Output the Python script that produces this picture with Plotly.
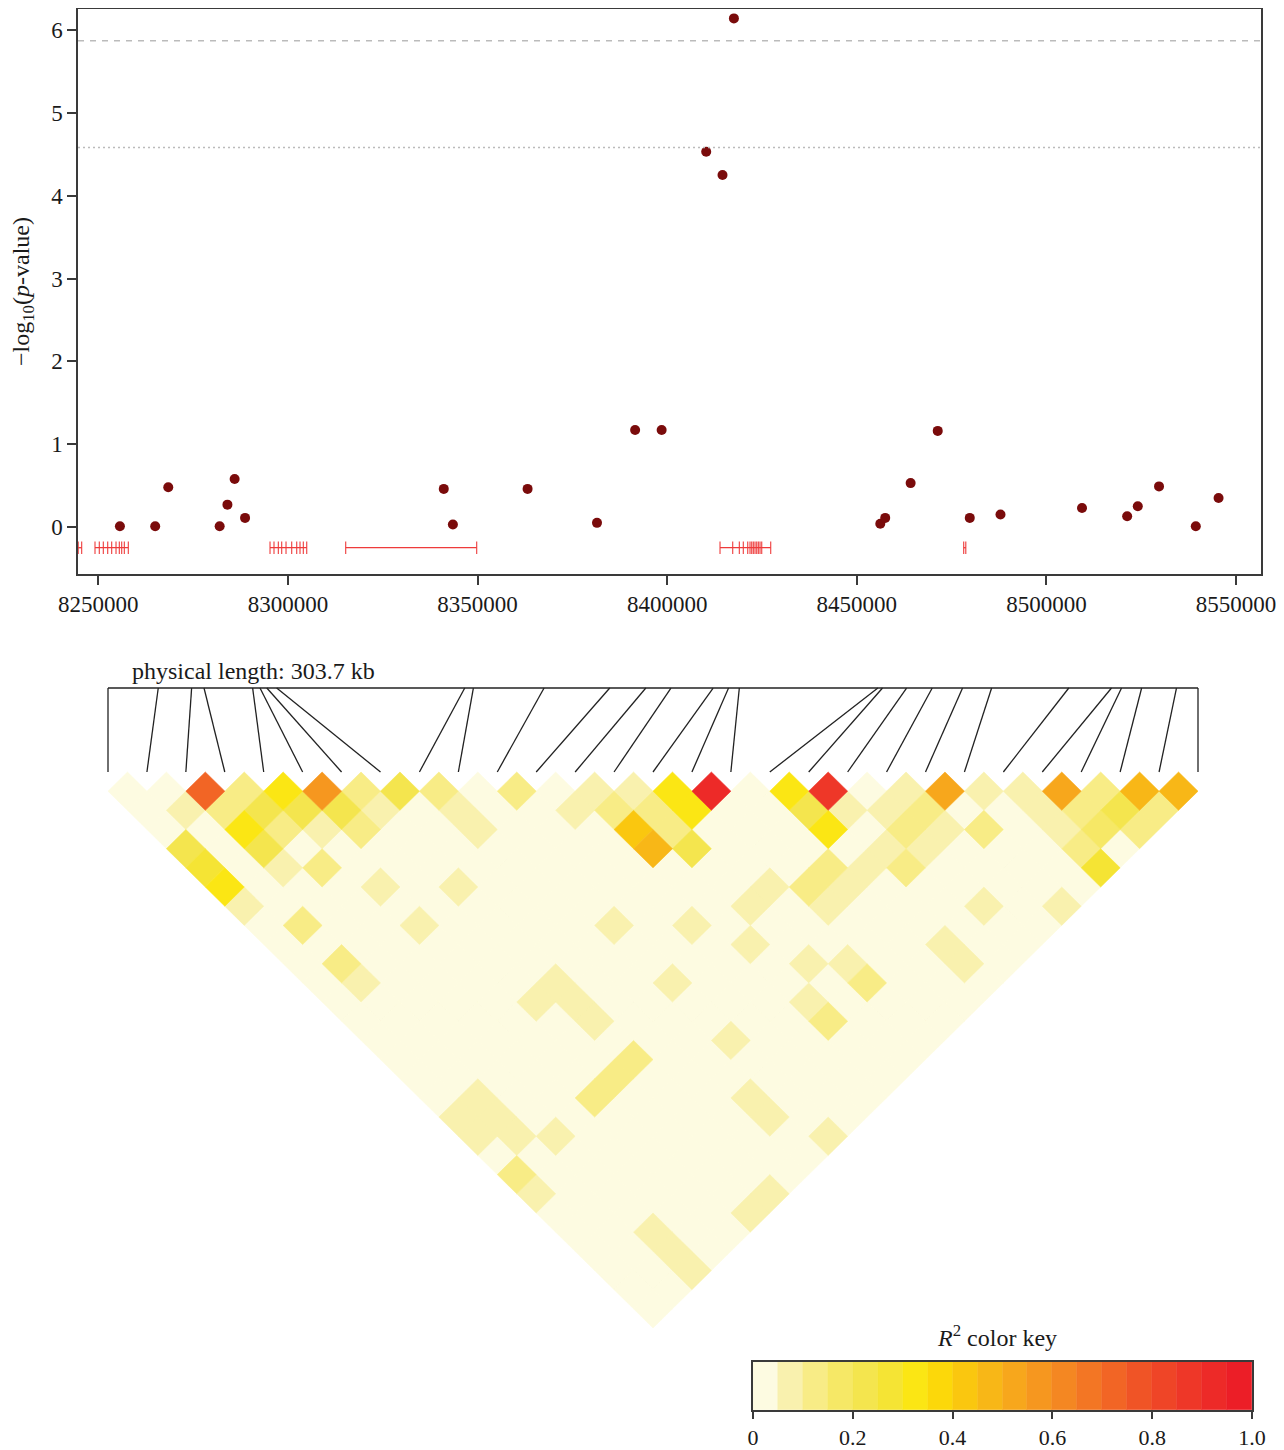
import plotly.graph_objects as go

W, H = 1284, 1450
OFF = 8  # page body margin of the html page
FONT = "Liberation Serif, Times New Roman, serif"

# ---------------- data ----------------
snp_pos = [8241700, 8255700, 8265000, 8268450, 8282000, 8284050, 8285950, 8288700,
           8341100, 8343500, 8363200, 8381500, 8391550, 8398550, 8410300, 8414600,
           8417600, 8456200, 8457500, 8464200, 8471350, 8479800, 8487900, 8509400,
           8521300, 8524100, 8529700, 8539400, 8545400]
neg_log_p = [None, 0.01, 0.01, 0.48, 0.01, 0.27, 0.58, 0.11,
             0.46, 0.03, 0.46, 0.05, 1.17, 1.17, 4.53, 4.25,
             6.14, 0.04, 0.11, 0.53, 1.16, 0.11, 0.15, 0.23,
             0.13, 0.25, 0.49, 0.01, 0.35]

genome_ticks = [8250000, 8300000, 8350000, 8400000, 8450000, 8500000, 8550000]
p_ticks = [0, 1, 2, 3, 4, 5, 6]
threshold_dashed = 5.87
threshold_dotted = 4.58

gene_track_y = -0.25
gene_starts = [8244700, 8249130, 8295280, 8315240, 8413940, 8478200]
gene_ends = [8245620, 8257910, 8304960, 8349780, 8427310, 8478750]
exon_marks = [
    [8244700, 8245620],
    [8249130, 8250260, 8251320, 8252480, 8253530, 8254670, 8255540, 8256170, 8256860, 8257910],
    [8295280, 8296330, 8297470, 8298360, 8299500, 8301000, 8302320, 8303190, 8304060, 8304960],
    [8315240, 8349780],
    [8413940, 8417290, 8419030, 8420080, 8421250, 8421850, 8422300, 8422720, 8423170,
     8423620, 8424040, 8424490, 8424940, 8427310],
    [8478200, 8478750],
]

# pairwise LD (r^2); row i lists SNP i with SNPs i+1 .. 29
ld_r2 = [
    [.03, .02, .02, .22, .27, .32, .07, .02, .02, .02, .02, .02, .02, .02, .02, .02, .02, .07, .07, .02, .13, .07, .02, .02, .02, .02, .02, .02],
    [.03, .07, .02, .02, .02, .02, .02, .14, .02, .14, .07, .02, .02, .02, .02, .02, .07, .07, .07, .02, .02, .02, .02, .02, .02, .02, .02],
    [.71, .11, .32, .22, .07, .02, .02, .02, .02, .02, .02, .02, .02, .02, .02, .02, .02, .02, .07, .02, .02, .02, .02, .07, .07, .07],
    [.12, .22, .11, .04, .14, .02, .02, .02, .02, .02, .02, .02, .02, .02, .02, .02, .02, .02, .02, .02, .02, .02, .02, .02, .02],
    [.33, .22, .06, .02, .02, .07, .02, .07, .02, .02, .02, .02, .02, .02, .02, .02, .14, .02, .02, .02, .02, .02, .02, .02],
    [.58, .22, .14, .02, .02, .02, .02, .02, .02, .02, .02, .07, .02, .02, .02, .14, .02, .02, .02, .02, .02, .02, .07],
    [.12, .07, .02, .02, .02, .07, .02, .02, .02, .02, .07, .07, .07, .02, .14, .02, .02, .02, .02, .02, .02, .07],
    [.22, .02, .02, .02, .02, .02, .02, .02, .02, .02, .02, .02, .02, .02, .02, .02, .02, .02, .02, .02, .02],
    [.12, .07, .07, .02, .02, .02, .02, .02, .02, .02, .02, .02, .02, .02, .02, .02, .07, .07, .02, .02],
    [.04, .02, .02, .02, .02, .02, .02, .07, .02, .02, .08, .02, .02, .07, .02, .02, .02, .02, .07],
    [.11, .02, .02, .02, .02, .02, .02, .02, .02, .02, .02, .02, .02, .02, .02, .02, .02, .02],
    [.04, .07, .02, .02, .02, .02, .02, .07, .02, .02, .02, .02, .02, .02, .02, .02, .02],
    [.06, .14, .42, .46, .02, .02, .02, .02, .07, .02, .02, .07, .13, .02, .02, .02],
    [.06, .11, .11, .22, .02, .02, .07, .02, .02, .07, .02, .02, .02, .02, .02],
    [.32, .31, .02, .02, .02, .07, .02, .02, .02, .07, .13, .02, .02, .02],
    [.91, .02, .02, .02, .02, .14, .07, .02, .02, .02, .02, .02, .02],
    [.02, .02, .02, .02, .14, .07, .02, .02, .02, .02, .02, .02],
    [.31, .22, .31, .02, .07, .02, .02, .02, .07, .07, .02],
    [.86, .07, .02, .08, .11, .02, .02, .02, .02, .02],
    [.03, .06, .11, .07, .02, .02, .08, .02, .02],
    [.07, .13, .07, .02, .02, .02, .02, .02],
    [.52, .03, .11, .02, .02, .02, .07],
    [.07, .03, .02, .02, .02, .02],
    [.07, .07, .07, .11, .28],
    [.52, .11, .18, .03],
    [.12, .20, .11],
    [.47, .11],
    [.47],
]

ld_bin_colors = ["#FDFBE1", "#F9F1AE", "#F8EC86", "#F6E866", "#F4E54E",
                 "#F5E434", "#FBE614", "#FCD80A", "#FAC70F", "#F8B717",
                 "#F7A71C", "#F6971F", "#F48722", "#F37624", "#F26525",
                 "#F05426", "#EF4527", "#EE3728", "#ED2A28", "#EC1E27"]
key_ticks = [0, 0.2, 0.4, 0.6, 0.8, 1.0]
key_tick_text = ["0", "0.2", "0.4", "0.6", "0.8", "1.0"]


def fx(p):
    return (p - OFF) / W


def fy(p):
    return 1 - (p - OFF) / H


# ---------------- figure ----------------
fig = go.Figure()

# Manhattan points
fig.add_trace(go.Scatter(x=snp_pos, y=neg_log_p, mode="markers",
                         marker=dict(color="#7A0B0B", size=10, line=dict(width=0)),
                         xaxis="x", yaxis="y", showlegend=False, hoverinfo="skip"))

# gene track
gx, gy = [], []
for s, e in zip(gene_starts, gene_ends):
    gx += [s, e, None]
    gy += [gene_track_y, gene_track_y, None]
fig.add_trace(go.Scatter(x=gx, y=gy, mode="lines", line=dict(color="#EE3B3B", width=1.3),
                         xaxis="x", yaxis="y", showlegend=False, hoverinfo="skip"))
ex = [m for g in exon_marks for m in g]
fig.add_trace(go.Scatter(x=ex, y=[gene_track_y] * len(ex), mode="markers",
                         marker=dict(symbol="line-ns", size=9, line=dict(color="#EE3B3B", width=1.1)),
                         xaxis="x", yaxis="y", showlegend=False, hoverinfo="skip"))

# LD heatmap diamonds grouped by colour bin
n = len(snp_pos)
bins = {}
for i, row in enumerate(ld_r2):
    for k, r2 in enumerate(row):
        j = i + 1 + k
        cx = (i + j) / 2 + 1
        cy = -(j - i) / 2
        b = min(int(r2 * 20 + 1e-9), 19)
        xs, ys = bins.setdefault(b, ([], []))
        xs += [cx - 0.5, cx, cx + 0.5, cx, cx - 0.5, None]
        ys += [cy, cy + 0.5, cy, cy - 0.5, cy, None]
for b in sorted(bins):
    xs, ys = bins[b]
    fig.add_trace(go.Scatter(x=xs, y=ys, mode="lines", fill="toself",
                             fillcolor=ld_bin_colors[b],
                             line=dict(color=ld_bin_colors[b], width=0.6),
                             xaxis="x2", yaxis="y2", showlegend=False, hoverinfo="skip"))

# SNP connector lines
span = snp_pos[-1] - snp_pos[0]
top_y = 2.19
lx, ly = [1, n, None], [top_y, top_y, None]
for k, p in enumerate(snp_pos):
    xt = 1 + (p - snp_pos[0]) / span * (n - 1)
    lx += [xt, k + 1, None]
    ly += [top_y, 0, None]
fig.add_trace(go.Scatter(x=lx, y=ly, mode="lines", line=dict(color="#222222", width=1.3),
                         xaxis="x2", yaxis="y2", showlegend=False, hoverinfo="skip"))

# colour key
key_mids = [(b + 0.5) / 20 for b in range(20)]
fig.add_trace(go.Bar(x=key_mids, y=[1] * 20, width=0.05,
                     marker=dict(color=ld_bin_colors, line=dict(color=ld_bin_colors, width=0.5)),
                     xaxis="x3", yaxis="y3", showlegend=False, hoverinfo="skip"))

axis_common = dict(showline=True, mirror=True, linecolor="#3a3a3a", linewidth=1.5,
                   ticks="outside", ticklen=9, tickwidth=1.5, tickcolor="#3a3a3a",
                   showgrid=False, zeroline=False, automargin=False,
                   tickfont=dict(family=FONT, size=23, color="#1a1a1a"))
key_axis = dict(axis_common)
key_axis.update(ticklen=7, tickfont=dict(family=FONT, size=22, color="#1a1a1a"))

unit_x = 1090 / (n - 1)      # px per SNP step
unit_y = 556 / 14.5          # px per row-unit

fig.update_layout(
    template="none",
    width=W, height=H, autosize=False,
    margin=dict(l=0, r=0, t=0, b=0, pad=0),
    paper_bgcolor="white", plot_bgcolor="white",
    hovermode=False, showlegend=False,
    font=dict(family=FONT, size=22, color="#1a1a1a"),
    xaxis=dict(domain=[fx(78), fx(1261)], range=[8244647, 8556592],
               tickvals=genome_ticks, ticktext=[str(t) for t in genome_ticks],
               anchor="y", **axis_common),
    yaxis=dict(domain=[fy(574), fy(9)], range=[-0.5674, 6.2535],
               tickvals=p_ticks, anchor="x", **axis_common),
    xaxis2=dict(domain=[fx(100), fx(1206)], range=[1 - 8 / unit_x, n + 8 / unit_x],
                visible=False, automargin=False, anchor="y2"),
    yaxis2=dict(domain=[fy(1334), fy(650)],
                range=[-(1334 - 772) / unit_y, (772 - 650) / unit_y],
                visible=False, automargin=False, anchor="x2"),
    xaxis3=dict(domain=[fx(753), fx(1252)], range=[0, 1], tickvals=key_ticks,
                ticktext=key_tick_text, anchor="y3", **key_axis),
    yaxis3=dict(domain=[fy(1410), fy(1362)], range=[0, 1], showline=True,
                mirror=True, linecolor="#3a3a3a", linewidth=1.5, ticks="",
                showticklabels=False, showgrid=False, zeroline=False,
                automargin=False, anchor="x3"),
    bargap=0,
    shapes=[
        dict(type="line", xref="x domain", x0=0, x1=1, yref="y",
             y0=threshold_dashed, y1=threshold_dashed,
             line=dict(color="#BBBBBB", width=1.5, dash="6px,6px")),
        dict(type="line", xref="x domain", x0=0, x1=1, yref="y",
             y0=threshold_dotted, y1=threshold_dotted,
             line=dict(color="#BBBBBB", width=1.5, dash="2px,3px")),
    ],
    annotations=[
        dict(text="\u2212log<sub>10</sub>(<i>p</i>-value)", xref="paper", yref="paper",
             x=fx(23), y=fy(292), textangle=-90, showarrow=False,
             font=dict(family=FONT, size=24, color="#1a1a1a"),
             xanchor="center", yanchor="middle"),
        dict(text="physical length: %.1f kb" % (span / 1000), xref="x2", yref="y2",
             x=1 + 22 / unit_x, y=(772 - 671) / unit_y, showarrow=False,
             xanchor="left", yanchor="middle",
             font=dict(family=FONT, size=24, color="#1a1a1a")),
        dict(text="<i>R</i><sup>2</sup> color key", xref="paper", yref="paper",
             x=fx(997), y=fy(1336), showarrow=False, xanchor="center", yanchor="middle",
             font=dict(family=FONT, size=24, color="#1a1a1a")),
    ],
)

fig.write_html("out.html")
